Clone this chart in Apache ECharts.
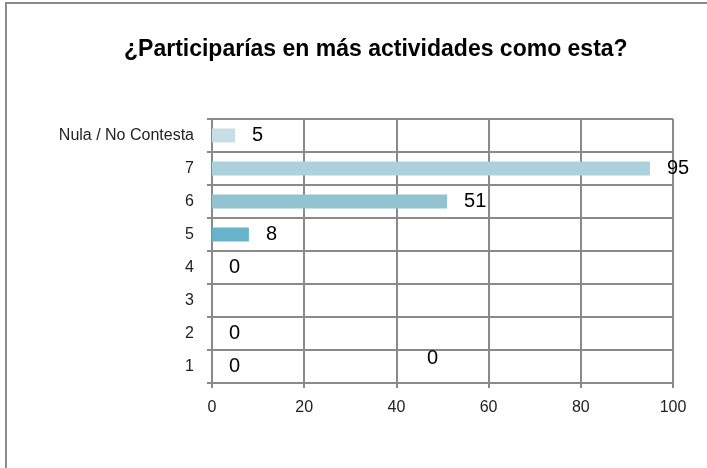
<!DOCTYPE html>
<html>
<head>
<meta charset="utf-8">
<script src="https://cdn.jsdelivr.net/npm/echarts@6/dist/echarts.min.js"></script>
<style>
  html, body { margin: 0; padding: 0; background: #fff; }
  #chart { width: 707px; height: 468px; }
</style>
</head>
<body>
<div id="chart"></div>
<script>
// categories bottom to top, like the axis reads
let categories = ['1', '2', '3', '4', '5', '6', '7', 'Nula / No Contesta'];
let answers = [0, 0, 0, 0, 8, 51, 95, 5];
let barColors = ['#67b3c9', '#67b3c9', '#67b3c9', '#67b3c9', '#67b3c9', '#92c3d3', '#abd1dc', '#c6dfe6'];
let xTicks = [0, 20, 40, 60, 80, 100];

function buildData() {
    let result = [];
    for (let i = 0; i < answers.length; i++) {
        let item = {
            value: answers[i],
            itemStyle: { color: barColors[i] }
        };
        // the label of "3" was dragged away in the original sheet
        if (categories[i] == '3') {
            item.label = { offset: [198, 58] };
        }
        result.push(item);
    }
    return result;
}

let dom = document.getElementById('chart');
let myChart = echarts.init(dom, null, { renderer: 'canvas' });

let option = {
    animation: false,
    backgroundColor: '#fff',
    title: {
        text: '¿Participarías en más actividades como esta?',
        left: 119,
        top: 33,
        textStyle: {
            fontFamily: 'Liberation Sans',
            fontWeight: 'bold',
            fontSize: 23,
            color: '#000'
        }
    },
    graphic: [{
        type: 'rect',
        shape: { x: 6, y: 3, width: 720, height: 490 },
        style: { fill: 'none', stroke: '#8a8a8a', lineWidth: 2 },
        silent: true
    }],
    grid: {
        left: 212,
        top: 119,
        width: 461,
        height: 264,
        containLabel: false
    },
    xAxis: {
        type: 'value',
        min: 0,
        max: 100,
        interval: 20,
        axisLine: { show: true, lineStyle: { color: '#8a8a8a', width: 2 } },
        axisTick: { show: true, length: 5, lineStyle: { color: '#8a8a8a', width: 2 } },
        axisLabel: {
            color: '#222',
            fontFamily: 'Liberation Sans',
            fontSize: 16,
            margin: 17,
            formatter: function (v) { return xTicks.indexOf(v) >= 0 ? String(v) : ''; }
        },
        splitLine: { show: true, lineStyle: { color: '#8a8a8a', width: 2 } }
    },
    yAxis: {
        type: 'category',
        data: categories,
        axisLine: { show: true, lineStyle: { color: '#8a8a8a', width: 2 } },
        axisTick: { show: true, length: 5, alignWithLabel: false, lineStyle: { color: '#8a8a8a', width: 2 } },
        axisLabel: {
            color: '#222',
            fontFamily: 'Liberation Sans',
            fontSize: 16,
            margin: 18
        },
        splitLine: { show: true, lineStyle: { color: '#8a8a8a', width: 2 } }
    },
    series: [{
        type: 'bar',
        data: buildData(),
        barWidth: 14,
        label: {
            show: true,
            position: 'right',
            distance: 17,
            color: '#000',
            fontFamily: 'Liberation Sans',
            fontSize: 20
        }
    }]
};

myChart.setOption(option);
window.addEventListener('resize', myChart.resize);
</script>
</body>
</html>
